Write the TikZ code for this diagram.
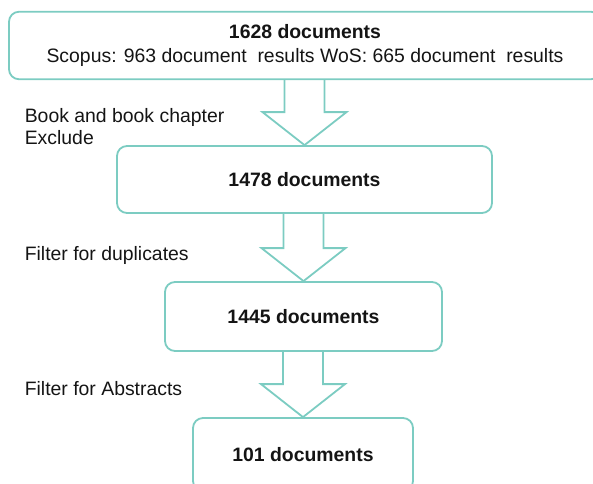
\documentclass[tikz,border=0pt]{standalone}
\usepackage{fontspec}
\setmainfont{Liberation Sans}
\usetikzlibrary{calc}

\definecolor{tealline}{RGB}{124,204,194}
\definecolor{inktext}{RGB}{20,20,20}

% hollow block arrow from the bottom of #1 to the top of #2
\newcommand{\flowarrow}[2]{%
  \draw[blockarrow] ($(#2.north |- #1.south)+(-20,0)$) -- ($(#2.north)+(-20,-33)$)
    -- ($(#2.north)+(-42,-33)$) -- (#2.north) -- ($(#2.north)+(42,-33)$)
    -- ($(#2.north)+(20,-33)$) -- ($(#2.north |- #1.south)+(20,0)$);}

\begin{document}
\begin{tikzpicture}[x=1pt, y=-1pt,
    font=\fontsize{19.4}{24}\selectfont, text=inktext,
    stagebox/.style={draw=tealline, line width=1.8pt, rounded corners=10pt,
      inner sep=0pt, align=center},
    blockarrow/.style={draw=tealline, line width=1.8pt, line join=miter},
    note/.style={inner sep=0pt, align=left, anchor=base west,
      font=\fontsize{19.4}{22}\selectfont}]
    \useasboundingbox (0,0) rectangle (593,483);
    \clip (0,0) rectangle (593,483);

    % Stages
    \node[stagebox, minimum width=592pt, minimum height=67.5pt] (total) at (305,45.5)
      {\textbf{1628 documents}\\Scopus: 963 document\ \ results WoS: 665 document\ \ results};
    \node[stagebox, minimum width=375pt, minimum height=67pt] (nobooks) at (304.5,179.5)
      {\textbf{1478 documents}};
    \node[stagebox, minimum width=277pt, minimum height=69pt] (nodups) at (303.5,316.5)
      {\textbf{1445 documents}};
    \node[stagebox, minimum width=220pt, minimum height=73pt] (final) at (303,454.5)
      {\textbf{101 documents}};

    % Arrows
    \flowarrow{total}{nobooks}
    \flowarrow{nobooks}{nodups}
    \flowarrow{nodups}{final}

    % Filter steps
    \node[note] (bookstep) at (24.6,144) {Book and book chapter\\Exclude};
    \node[note] (dupstep) at (24.6,260) {Filter for duplicates};
    \node[note] (absstep) at (24.6,395) {Filter for Abstracts};
\end{tikzpicture}
\end{document}
